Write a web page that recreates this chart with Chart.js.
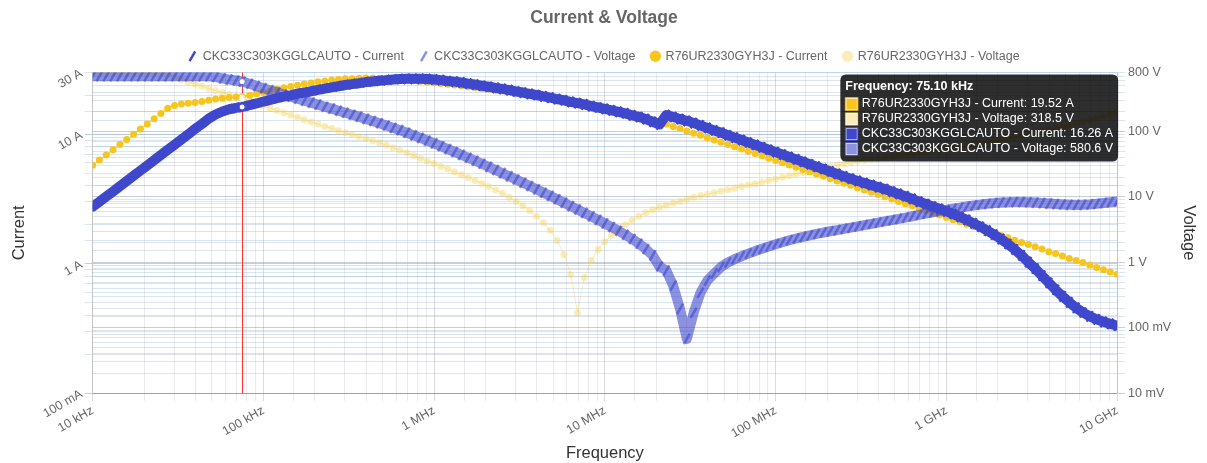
<!DOCTYPE html>
<html>
<head>
<meta charset="utf-8">
<title>Current & Voltage</title>
<script src="https://cdn.jsdelivr.net/npm/chart.js@4/dist/chart.umd.min.js"></script>
<style>
  html, body { margin: 0; padding: 0; background: #fff; }
  #wrap { width: 1207px; height: 463px; }
</style>
</head>
<body>
<div id="wrap"><canvas id="chart" width="1207" height="463"></canvas></div>
<script>
// frequencies (Hz), shared by all series
const freqs = [
  1.000e4, 1.096e4, 1.202e4, 1.318e4, 1.445e4, 1.585e4, 1.738e4, 1.905e4, 2.089e4, 2.291e4, 2.512e4, 2.754e4, 3.020e4, 3.311e4, 3.631e4, 3.981e4, 4.365e4, 4.786e4, 5.248e4, 5.754e4, 6.310e4, 6.918e4, 7.510e4, 8.318e4, 9.120e4,
  1.000e5, 1.096e5, 1.202e5, 1.318e5, 1.445e5, 1.585e5, 1.738e5, 1.905e5, 2.089e5, 2.291e5, 2.512e5, 2.754e5, 3.020e5, 3.311e5, 3.631e5, 3.981e5, 4.365e5, 4.786e5, 5.248e5, 5.754e5, 6.310e5, 6.918e5, 7.586e5, 8.318e5, 9.120e5,
  1.000e6, 1.096e6, 1.202e6, 1.318e6, 1.445e6, 1.585e6, 1.738e6, 1.905e6, 2.089e6, 2.291e6, 2.512e6, 2.754e6, 3.020e6, 3.311e6, 3.631e6, 3.981e6, 4.365e6, 4.786e6, 5.248e6, 5.754e6, 6.310e6, 6.918e6, 7.586e6, 8.318e6, 9.120e6,
  1.000e7, 1.096e7, 1.202e7, 1.318e7, 1.445e7, 1.585e7, 1.738e7, 1.905e7, 2.089e7, 2.291e7, 2.512e7, 2.754e7, 3.020e7, 3.311e7, 3.631e7, 3.981e7, 4.365e7, 4.786e7, 5.248e7, 5.754e7, 6.310e7, 6.918e7, 7.586e7, 8.318e7, 9.120e7,
  1.000e8, 1.096e8, 1.202e8, 1.318e8, 1.445e8, 1.585e8, 1.738e8, 1.905e8, 2.089e8, 2.291e8, 2.512e8, 2.754e8, 3.020e8, 3.311e8, 3.631e8, 3.981e8, 4.365e8, 4.786e8, 5.248e8, 5.754e8, 6.310e8, 6.918e8, 7.586e8, 8.318e8, 9.120e8,
  1.000e9, 1.096e9, 1.202e9, 1.318e9, 1.445e9, 1.585e9, 1.738e9, 1.905e9, 2.089e9, 2.291e9, 2.512e9, 2.754e9, 3.020e9, 3.311e9, 3.631e9, 3.981e9, 4.365e9, 4.786e9, 5.248e9, 5.754e9, 6.310e9, 6.918e9, 7.586e9, 8.318e9, 9.120e9,
  1.000e10
];

// CKC33C303KGGLCAUTO - Current (A)
const ckcCurrent = [
  2.75, 3.01, 3.30, 3.62, 3.97, 4.36, 4.78, 5.24, 5.74, 6.30, 6.91, 7.58, 8.31, 9.11, 9.99, 11.0, 12.0, 13.2, 14.2, 15.0, 15.6, 16.0, 16.26, 16.8, 17.3,
  17.9, 18.4, 19.0, 19.5, 20.0, 20.6, 21.0, 21.5, 22.0, 22.5, 23.0, 23.5, 24.0, 24.4, 24.8, 25.3, 25.6, 25.9, 26.2, 26.5, 26.7, 26.8, 26.8, 26.8, 26.7,
  26.5, 26.2, 25.8, 25.5, 25.1, 24.6, 24.2, 23.7, 23.3, 22.8, 22.4, 21.9, 21.4, 21.0, 20.5, 20.1, 19.6, 19.2, 18.7, 18.3, 17.8, 17.4, 17.0, 16.5, 16.1,
  15.7, 15.3, 14.9, 14.5, 14.0, 13.6, 13.1, 12.5, 11.9, 14.1, 13.6, 13.1, 12.7, 12.2, 11.7, 11.2, 10.7, 10.3, 9.83, 9.42, 9.02, 8.64, 8.28, 7.93, 7.60,
  7.28, 6.97, 6.68, 6.40, 6.13, 5.87, 5.62, 5.39, 5.16, 4.94, 4.73, 4.54, 4.36, 4.20, 4.05, 3.91, 3.77, 3.61, 3.46, 3.32, 3.17, 3.02, 2.89, 2.77, 2.66,
  2.54, 2.42, 2.30, 2.18, 2.05, 1.93, 1.80, 1.68, 1.55, 1.42, 1.29, 1.16, 1.03, 0.917, 0.809, 0.713, 0.629, 0.560, 0.503, 0.456, 0.420, 0.392, 0.372, 0.356, 0.343,
  0.333
];

// CKC33C303KGGLCAUTO - Voltage (V)
const ckcVoltage = [
  700, 700, 700, 700, 700, 700, 700, 700, 700, 700, 700, 700, 700, 700, 700, 700, 700, 700, 682, 652, 624, 603, 580.6, 538, 498,
  461, 427, 397, 368, 342, 319, 297, 277, 258, 240, 224, 208, 194, 181, 169, 156, 145, 134, 124, 114, 105, 96.0, 87.6, 79.9, 72.6,
  66.0, 59.7, 54.1, 48.8, 44.1, 39.8, 35.8, 32.2, 28.8, 25.8, 23.1, 20.7, 18.5, 16.5, 14.7, 13.1, 11.6, 10.4, 9.22, 8.18, 7.25, 6.43, 5.70, 5.05, 4.46,
  3.94, 3.47, 3.05, 2.65, 2.28, 1.93, 1.60, 1.28, 0.864, 0.750, 0.441, 0.195, 0.0676, 0.170, 0.344, 0.526, 0.674, 0.849, 0.996, 1.12, 1.24, 1.36, 1.49, 1.62, 1.75,
  1.89, 2.03, 2.18, 2.32, 2.46, 2.59, 2.72, 2.86, 2.99, 3.12, 3.26, 3.40, 3.55, 3.71, 3.89, 4.06, 4.23, 4.42, 4.63, 4.84, 5.07, 5.31, 5.56, 5.82, 6.07,
  6.34, 6.61, 6.88, 7.15, 7.41, 7.64, 7.86, 8.06, 8.21, 8.32, 8.38, 8.38, 8.32, 8.21, 8.06, 7.92, 7.78, 7.67, 7.59, 7.56, 7.59, 7.70, 7.86, 8.09, 8.32,
  8.54
];

// R76UR2330GYH3J - Current (A)
const r76Current = [
  5.76, 6.32, 6.93, 7.59, 8.32, 9.13, 10.0, 11.0, 12.0, 13.2, 14.5, 15.9, 16.7, 17.1, 17.4, 17.6, 17.9, 18.3, 18.7, 19.0, 19.2, 19.4, 19.52, 20.0, 20.6,
  21.1, 21.7, 22.3, 22.9, 23.4, 23.9, 24.5, 24.9, 25.4, 25.8, 26.2, 26.5, 26.8, 26.9, 27.1, 27.2, 27.2, 27.1, 26.9, 26.8, 26.5, 26.3, 26.0, 25.7, 25.3,
  25.0, 24.7, 24.3, 24.0, 23.6, 23.3, 23.0, 22.6, 22.3, 22.0, 21.7, 21.4, 21.0, 20.7, 20.4, 20.0, 19.6, 19.3, 18.9, 18.5, 18.1, 17.7, 17.3, 16.8, 16.4,
  16.0, 15.6, 15.1, 14.7, 14.3, 13.8, 13.4, 12.9, 12.5, 12.0, 11.5, 11.1, 10.6, 10.2, 9.81, 9.42, 9.04, 8.69, 8.34, 8.01, 7.69, 7.39, 7.09, 6.81, 6.54,
  6.28, 6.03, 5.79, 5.56, 5.34, 5.13, 4.93, 4.73, 4.54, 4.36, 4.19, 4.03, 3.87, 3.71, 3.56, 3.42, 3.29, 3.16, 3.03, 2.91, 2.80, 2.69, 2.58, 2.48, 2.38,
  2.28, 2.19, 2.11, 2.02, 1.94, 1.87, 1.79, 1.72, 1.65, 1.59, 1.52, 1.46, 1.41, 1.35, 1.30, 1.24, 1.20, 1.15, 1.10, 1.06, 1.02, 0.976, 0.937, 0.900, 0.864,
  0.830
];

// R76UR2330GYH3J - Voltage (V)
const r76Voltage = [
  800, 800, 800, 800, 800, 800, 800, 800, 800, 800, 800, 745, 682, 624, 576, 532, 493, 456, 423, 394, 367, 342, 318.5, 294, 271,
  249, 229, 211, 194, 179, 165, 152, 140, 130, 120, 112, 104, 97.1, 90.4, 84.3, 78.5, 73.1, 67.4, 61.9, 56.7, 51.9, 47.5, 43.2, 39.2, 35.6,
  32.5, 29.6, 26.8, 24.2, 21.9, 19.8, 17.9, 16.1, 14.4, 12.8, 11.4, 9.94, 8.63, 7.35, 6.16, 5.07, 4.03, 3.09, 2.17, 1.32, 0.651, 0.170, 0.586, 1.07, 1.58,
  2.06, 2.59, 3.15, 3.75, 4.40, 5.07, 5.74, 6.39, 6.97, 7.48, 8.04, 8.63, 9.26, 9.87, 10.5, 11.0, 11.6, 12.3, 12.9, 13.7, 14.4, 15.2, 16.0, 16.9, 17.9,
  18.9, 20.0, 21.2, 22.4, 23.6, 24.9, 26.3, 27.7, 29.1, 30.6, 32.2, 33.7, 35.3, 36.5, 37.7, 38.9, 40.2, 41.5, 42.9, 44.2, 45.7, 47.3, 49.0, 50.8, 52.6,
  54.5, 56.7, 58.9, 61.3, 63.7, 66.5, 69.4, 72.4, 75.8, 79.3, 83.1, 87.3, 91.7, 96.3, 102, 107, 113, 120, 127, 134, 142, 151, 160, 171, 182,
  194
];

// the frequency the tooltip / crosshair is showing
const hoverFreq = 7.510e4;

const BLUE = 'rgb(63, 72, 204)';
const BLUE_LIGHT = 'rgba(63, 72, 204, 0.6)';
const YELLOW = 'rgb(246, 197, 30)';
const YELLOW_LIGHT = 'rgba(246, 210, 80, 0.4)';

// formats a number with SI prefix, e.g. 75100 -> "75.10 kHz"
function si(v, unit, fixed) {
  const pref = [[1e9, 'G'], [1e6, 'M'], [1e3, 'k'], [1, ''], [1e-3, 'm'], [1e-6, 'µ']];
  let p = pref[pref.length - 1];
  for (const x of pref) {
    if (Math.abs(v) >= x[0] * 0.9999) { p = x; break; }
  }
  const n = v / p[0];
  const s = fixed ? n.toPrecision(4) : String(parseFloat(n.toPrecision(4)));
  return s + ' ' + p[1] + unit;
}

function isDecade(v) {
  const l = Math.log10(v);
  return Math.abs(l - Math.round(l)) < 1e-6;
}

Chart.defaults.font.family = "'Liberation Sans', Arial, Helvetica, sans-serif";
Chart.defaults.font.size = 12.5;
Chart.defaults.color = '#666';

// tooltip pinned in top right corner of the plot
Chart.Tooltip.positioners.topRight = function () {
  const ca = this.chart.chartArea;
  return { x: ca.right - 5, y: ca.top + 2 };
};

// red vertical line + white markers at the tooltip frequency
const crosshair = {
  id: 'crosshair',
  beforeDatasetsDraw(chart) {
    const act = chart.tooltip.getActiveElements();
    if (!act.length) return;
    const ctx = chart.ctx;
    const ca = chart.chartArea;
    const x = chart.scales.x.getPixelForValue(freqs[act[0].index]);
    ctx.save();
    ctx.strokeStyle = 'rgb(255, 50, 50)';
    ctx.lineWidth = 1;
    ctx.beginPath();
    ctx.moveTo(Math.round(x) + 0.5, ca.top);
    ctx.lineTo(Math.round(x) + 0.5, ca.bottom);
    ctx.stroke();
    ctx.restore();
  },
  afterDatasetsDraw(chart) {
    const act = chart.tooltip.getActiveElements();
    const ctx = chart.ctx;
    ctx.save();
    act.forEach(a => {
      const ds = chart.data.datasets[a.datasetIndex];
      const el = chart.getDatasetMeta(a.datasetIndex).data[a.index];
      ctx.beginPath();
      ctx.arc(el.x, el.y, 3, 0, Math.PI * 2);
      ctx.fillStyle = '#fff';
      ctx.fill();
      ctx.lineWidth = 1;
      ctx.strokeStyle = ds.borderColor;
      ctx.stroke();
    });
    ctx.restore();
  }
};

const gridY = ctx => (ctx.tick && ctx.tick.major) ? 'rgba(120, 150, 185, 0.45)' : 'rgba(150, 180, 215, 0.35)';
const gridX = ctx => (ctx.tick && ctx.tick.major) ? 'rgba(0, 0, 0, 0.14)' : 'rgba(0, 0, 0, 0.08)';

const chart = new Chart(document.getElementById('chart'), {
  type: 'line',
  data: {
    labels: freqs,
    datasets: [
      {
        label: 'CKC33C303KGGLCAUTO - Current',
        data: ckcCurrent,
        yAxisID: 'yI',
        borderColor: BLUE,
        backgroundColor: BLUE,
        borderWidth: 10,
        pointStyle: 'line',
        pointRotation: 120,
        pointRadius: 6,
        pointBorderWidth: 2.5,
        pointBorderColor: BLUE,
        pointHoverRadius: 6,
        borderJoinStyle: 'round',
        borderCapStyle: 'round',
        fill: false
      },
      {
        label: 'CKC33C303KGGLCAUTO - Voltage',
        data: ckcVoltage,
        yAxisID: 'yV',
        borderColor: BLUE_LIGHT,
        backgroundColor: BLUE_LIGHT,
        borderWidth: 10,
        pointStyle: 'line',
        pointRotation: 120,
        pointRadius: 6,
        pointBorderWidth: 2.5,
        pointBorderColor: BLUE_LIGHT,
        pointHoverRadius: 6,
        borderJoinStyle: 'round',
        borderCapStyle: 'round',
        fill: false
      },
      {
        label: 'R76UR2330GYH3J - Current',
        data: r76Current,
        yAxisID: 'yI',
        borderColor: YELLOW,
        backgroundColor: YELLOW,
        borderWidth: 1,
        pointStyle: 'circle',
        pointRadius: 3.5,
        pointBorderWidth: 0,
        pointHoverRadius: 3.5,
        fill: false
      },
      {
        label: 'R76UR2330GYH3J - Voltage',
        data: r76Voltage,
        yAxisID: 'yV',
        borderColor: YELLOW_LIGHT,
        backgroundColor: YELLOW_LIGHT,
        borderWidth: 1,
        pointStyle: 'circle',
        pointRadius: 3.5,
        pointBorderWidth: 0,
        pointHoverRadius: 3.5,
        fill: false
      }
    ]
  },
  options: {
    responsive: false,
    animation: false,
    events: [],
    layout: { padding: { left: 6, right: 5, bottom: 0 } },
    plugins: {
      title: {
        display: true,
        text: 'Current & Voltage',
        font: { size: 17.5, weight: 'bold' },
        color: '#666',
        padding: { top: 8, bottom: 5 }
      },
      legend: {
        labels: { usePointStyle: true, boxWidth: 8, boxHeight: 8, color: '#666', padding: 16 }
      },
      tooltip: {
        position: 'topRight',
        xAlign: 'right',
        yAlign: 'top',
        caretSize: 0,
        caretPadding: 0,
        cornerRadius: 6,
        padding: 5,
        backgroundColor: 'rgba(0, 0, 0, 0.82)',
        titleFont: { size: 12.5, weight: 'bold' },
        bodyFont: { size: 12.5 },
        titleMarginBottom: 2,
        bodySpacing: 0,
        boxPadding: 2,
        callbacks: {
          title: items => 'Frequency: ' + si(items[0].parsed.x, 'Hz', true),
          label: item => item.dataset.label + ': ' +
            si(item.parsed.y, item.dataset.yAxisID === 'yI' ? 'A' : 'V', true),
          labelColor: item => ({
            borderColor: item.dataset.borderColor,
            backgroundColor: item.dataset.backgroundColor
          })
        }
      }
    },
    scales: {
      x: {
        type: 'logarithmic',
        min: 1e4,
        max: 1e10,
        title: { display: true, text: 'Frequency', font: { size: 16.5 }, color: '#333', padding: { top: 0, bottom: 0 } },
        ticks: {
          autoSkip: false,
          minRotation: 30,
          maxRotation: 30,
          padding: 2,
          color: '#666',
          callback: v => isDecade(v) ? si(v, 'Hz', false) : ''
        },
        grid: { color: gridX }
      },
      yI: {
        type: 'logarithmic',
        position: 'left',
        min: 0.1,
        max: 30,
        title: { display: true, text: 'Current', font: { size: 16.5 }, color: '#333' },
        ticks: {
          autoSkip: false,
          minRotation: 30,
          maxRotation: 30,
          color: '#666',
          callback: v => (isDecade(v) || v === 30) ? si(v, 'A', false) : ''
        },
        grid: { color: gridY }
      },
      yV: {
        type: 'logarithmic',
        position: 'right',
        min: 0.01,
        max: 800,
        title: { display: true, text: 'Voltage', font: { size: 16.5 }, color: '#333' },
        ticks: {
          autoSkip: false,
          color: '#666',
          callback: v => (isDecade(v) || v === 800) ? si(v, 'V', false) : ''
        },
        grid: { color: gridY }
      }
    }
  },
  plugins: [crosshair]
});

// pin the tooltip on the 75.10 kHz sample, items in the same order as the original
const hi = freqs.indexOf(hoverFreq);
chart.tooltip.setActiveElements([2, 3, 0, 1].map(d => ({ datasetIndex: d, index: hi })), { x: 0, y: 0 });
chart.update();
</script>
</body>
</html>
